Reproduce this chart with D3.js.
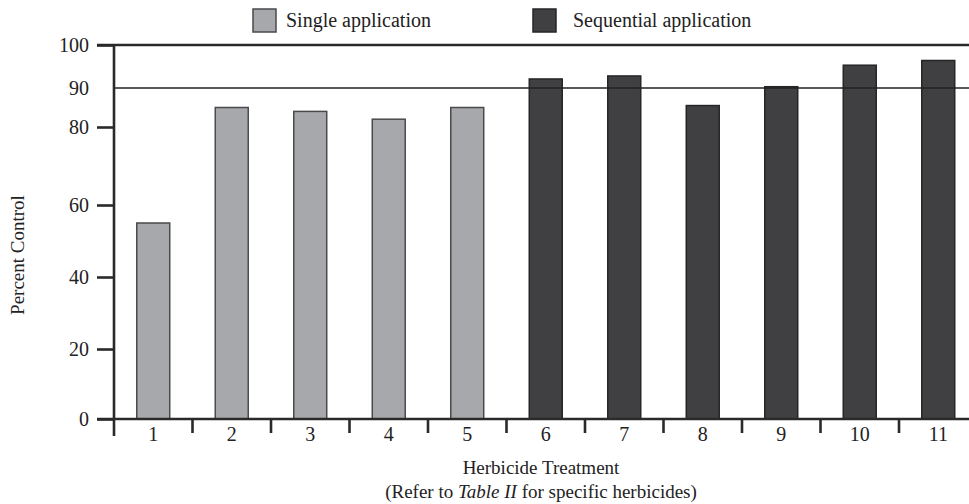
<!DOCTYPE html>
<html>
<head>
<meta charset="utf-8">
<script src="https://cdn.jsdelivr.net/npm/d3@7"></script>
<style>
  body { margin: 0; background: #fff; }
  svg { display: block; }
  svg text { font-family: "Liberation Serif", "DejaVu Serif", "Times New Roman", Times, serif; }
</style>
</head>
<body>
<svg id="chart"></svg>
<script>
const treatments = ["1", "2", "3", "4", "5", "6", "7", "8", "9", "10", "11"];
const single = [55, 85, 84, 82, 85, null, null, null, null, null, null];
const sequential = [null, null, null, null, null, 92.1, 92.8, 85.5, 90.3, 95.3, 96.4];
const yTicks = [0, 20, 40, 60, 80, 90, 100];
const legendItems = ["Single application", "Sequential application"];

const width = 969;
const height = 504;
const colors = { single: "#a7a8ab", sequential: "#404042" };
const strokes = { single: "#4a4a4c", sequential: "#262628" };

const svg = d3.select("#chart").attr("width", width).attr("height", height);

// the printed axis is not quite even, so the scale follows its tick marks
const y = d3
  .scaleLinear()
  .domain(yTicks)
  .range([419, 349, 277, 205, 127, 88, 45]);

const x = d3
  .scaleBand()
  .domain(treatments)
  .range([114, 977.5])
  .paddingInner(0.58)
  .paddingOuter(0.29);

const step = x.step();
const left = 114;

// bars
const bars = treatments.map((t, i) => ({
  t,
  value: single[i] != null ? single[i] : sequential[i],
  kind: single[i] != null ? "single" : "sequential",
}));

svg
  .append("g")
  .selectAll("rect")
  .data(bars)
  .join("rect")
  .attr("x", (d) => x(d.t))
  .attr("y", (d) => y(d.value))
  .attr("width", x.bandwidth())
  .attr("height", (d) => y(0) - y(d.value))
  .attr("fill", (d) => colors[d.kind])
  .attr("stroke", (d) => strokes[d.kind])
  .attr("stroke-width", 1.5);

// 90% reference line
svg
  .append("line")
  .attr("x1", left)
  .attr("x2", width)
  .attr("y1", y(90))
  .attr("y2", y(90))
  .attr("stroke", "#222")
  .attr("stroke-width", 1.3);

// top frame line
svg
  .append("line")
  .attr("x1", left - 17)
  .attr("x2", width)
  .attr("y1", y(100))
  .attr("y2", y(100))
  .attr("stroke", "#2a2a2a")
  .attr("stroke-width", 2.6);

// y axis
const yAxis = svg
  .append("g")
  .attr("transform", `translate(${left},0)`)
  .call(
    d3
      .axisLeft(y)
      .tickValues(yTicks)
      .tickSize(17)
      .tickPadding(8)
      .tickFormat(d3.format("d"))
  );

yAxis.attr("font-family", null);
yAxis.select(".domain").remove();
yAxis
  .selectAll(".tick line")
  .attr("stroke", "#2a2a2a")
  .attr("stroke-width", 2.6)
  .filter((d) => d === 90)
  .remove();
yAxis.selectAll(".tick text").attr("font-size", 20).attr("fill", "#222");

svg
  .append("line")
  .attr("x1", left)
  .attr("x2", left)
  .attr("y1", y(100) - 1)
  .attr("y2", y(0) + 17)
  .attr("stroke", "#2a2a2a")
  .attr("stroke-width", 2.6);

// x axis
const xAxis = svg
  .append("g")
  .attr("transform", `translate(0,${y(0)})`)
  .call(d3.axisBottom(x).tickSize(0).tickPadding(8));

xAxis.attr("font-family", null);
xAxis.select(".domain").remove();
xAxis.selectAll(".tick text").attr("font-size", 20).attr("fill", "#222");

svg
  .append("line")
  .attr("x1", left - 17)
  .attr("x2", width)
  .attr("y1", y(0))
  .attr("y2", y(0))
  .attr("stroke", "#2a2a2a")
  .attr("stroke-width", 2.6);

svg
  .append("g")
  .selectAll("line")
  .data(treatments.slice(1))
  .join("line")
  .attr("x1", (d) => x(d) - (step - x.bandwidth()) / 2)
  .attr("x2", (d) => x(d) - (step - x.bandwidth()) / 2)
  .attr("y1", y(0))
  .attr("y2", y(0) + 14)
  .attr("stroke", "#2a2a2a")
  .attr("stroke-width", 2.6);

// axis titles
svg
  .append("text")
  .attr("transform", `translate(24, 255) rotate(-90)`)
  .attr("text-anchor", "middle")
  .attr("font-size", 19)
  .attr("fill", "#222")
  .text("Percent Control");

svg
  .append("text")
  .attr("x", 541)
  .attr("y", 474)
  .attr("text-anchor", "middle")
  .attr("font-size", 19)
  .attr("fill", "#222")
  .text("Herbicide Treatment");

const note = svg
  .append("text")
  .attr("x", 541)
  .attr("y", 498)
  .attr("text-anchor", "middle")
  .attr("font-size", 19)
  .attr("fill", "#222");
note.append("tspan").text("(Refer to ");
note.append("tspan").attr("font-style", "italic").text("Table II");
note.append("tspan").text(" for specific herbicides)");

// legend
const legend = svg
  .append("g")
  .selectAll("g")
  .data(legendItems)
  .join("g")
  .attr("transform", (d, i) => `translate(${i === 0 ? 253 : 533}, 9)`);

legend
  .append("rect")
  .attr("width", 23)
  .attr("height", 23)
  .attr("fill", (d, i) => (i === 0 ? colors.single : colors.sequential))
  .attr("stroke", (d, i) => (i === 0 ? strokes.single : strokes.sequential))
  .attr("stroke-width", 1.5);

legend
  .append("text")
  .attr("x", (d, i) => (i === 0 ? 33 : 40))
  .attr("y", 18)
  .attr("font-size", 20)
  .attr("fill", "#222")
  .text((d) => d);
</script>
</body>
</html>
